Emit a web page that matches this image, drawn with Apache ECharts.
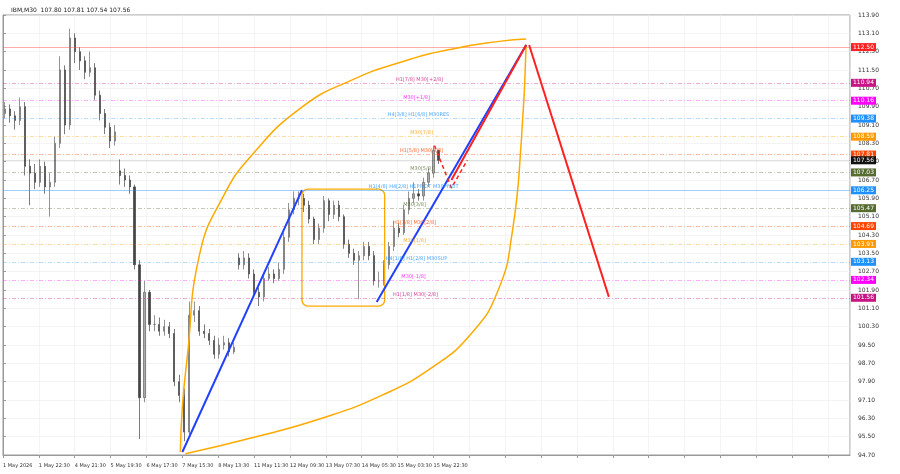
<!DOCTYPE html>
<html><head><meta charset="utf-8">
<script src="https://cdn.jsdelivr.net/npm/echarts@6/dist/echarts.min.js"></script>
<style>html,body{margin:0;padding:0;background:#fff}#c{width:900px;height:474px}</style>
</head><body><div id="c"></div>
<script>
const xLabels=['1 May 2026','1 May 22:30','4 May 21:30','5 May 19:30','6 May 17:30','7 May 15:30','8 May 13:30','11 May 11:30','12 May 09:30','13 May 07:30','14 May 05:30','15 May 03:30','15 May 22:30'];
const opens=[109.6,109.8,109.5,109.3,109.9,107.3,107.0,106.6,107.3,106.4,
106.6,108.3,111.5,109.1,112.9,112.3,111.9,111.4,111.6,110.4,
109.6,109.0,108.4,107.1,106.9,106.7,106.4,103.0,97.2,101.8,
100.4,100.4,100.1,100.3,100.0,97.9,97.3,95.7,100.8,101.0,
100.1,100.0,99.7,99.1,99.5,99.6,99.2,103.3,103.0,103.3,
102.6,101.8,101.6,102.4,102.6,102.4,102.8,104.2,105.4,105.9,
105.9,105.6,105.0,104.1,104.6,105.8,105.2,105.6,105.1,103.9,
103.5,103.2,103.4,103.8,103.4,102.3,102.3,103.0,103.8,104.6,
104.4,105.4,105.9,106.1,106.0,106.6,107.0,108.0];
const closes=[109.8,109.5,109.3,109.9,107.3,107.0,106.6,107.3,106.4,106.6,
108.3,111.5,109.1,112.9,112.3,111.9,111.4,111.6,110.4,109.6,
109.0,108.4,108.8,106.9,106.7,106.4,103.0,97.2,101.8,100.4,
100.4,100.1,100.3,100.0,97.9,97.3,95.7,100.8,101.0,100.1,
100.0,99.7,99.1,99.5,99.6,99.2,99.4,103.0,103.3,102.6,
101.8,101.6,102.4,102.6,102.4,102.8,104.2,105.4,105.9,105.9,
105.6,105.0,104.1,104.6,105.8,105.2,105.6,105.1,103.9,103.5,
103.2,103.4,103.8,103.4,102.3,102.3,103.0,103.8,104.6,104.4,
105.4,105.9,106.1,106.0,106.6,107.0,108.0,107.56];
const highs=[110.1,110.0,109.7,110.3,110.1,107.6,107.4,107.6,107.5,107.0,
108.6,112.1,111.7,113.3,113.1,112.5,112.1,112.3,111.8,110.6,
109.8,109.2,109.1,107.6,107.2,106.9,106.5,103.2,102.3,101.9,
100.8,100.7,100.6,100.5,100.2,98.2,97.6,101.4,101.4,101.2,
100.4,100.2,99.9,99.8,99.9,99.8,99.6,103.5,103.6,103.5,
102.8,102.0,102.6,102.9,102.8,103.1,104.4,105.7,106.2,106.2,
106.1,105.8,105.1,104.8,106.0,105.9,105.8,105.8,105.2,104.1,
103.7,103.6,104.0,104.0,103.6,102.7,103.2,104.0,104.9,104.8,
105.6,106.2,106.6,106.3,106.8,107.2,108.2,108.0];
const lows=[109.4,109.2,108.9,109.1,106.9,105.6,106.3,106.4,106.1,105.1,
106.4,108.1,108.7,108.9,111.8,111.5,111.1,111.2,110.2,109.3,
108.7,108.1,108.2,106.5,106.4,106.1,102.8,95.4,97.0,100.1,
100.1,99.9,99.9,99.8,97.7,97.0,95.3,95.6,100.5,99.9,
99.8,99.5,98.9,98.9,99.3,99.0,99.1,102.8,102.8,102.4,
101.6,101.2,101.4,102.3,102.2,102.3,102.6,104.0,105.2,105.6,
105.3,104.8,103.9,103.9,104.4,104.9,105.0,104.9,103.7,103.3,
103.0,101.5,103.2,103.2,102.1,102.0,102.1,102.8,103.6,104.2,
104.3,105.2,105.7,105.8,105.8,106.4,106.8,107.4];
const levelPrices=[112.50,110.94,110.16,109.38,108.59,107.81,107.56,107.03,106.25,105.47,104.69,103.91,103.13,102.34,101.56];
const levelColors=['#ff2020','#c71585','#ff00ff','#1e90ff','#ff9900','#ff4500','#111111','#556b2f','#1e90ff','#556b2f','#ff4500','#ff9900','#1e90ff','#ff00ff','#c71585'];
const levelLineColors=['rgba(255,80,80,0.6)','rgba(199,21,133,0.45)','rgba(255,0,255,0.4)','rgba(30,144,255,0.4)','rgba(255,153,0,0.45)','rgba(255,69,0,0.45)','rgba(0,0,0,0.15)','rgba(85,107,47,0.45)','rgba(30,144,255,0.55)','rgba(85,107,47,0.45)','rgba(255,69,0,0.45)','rgba(255,153,0,0.45)','rgba(30,144,255,0.4)','rgba(255,0,255,0.4)','rgba(199,21,133,0.45)'];
const levelTexts=['','H1[7/8] M30[+2/8]','M30[+1/8]','H4[3/8] H1[6/8] M30RES','M30[7/8]','H1[5/8] M30[6/8]','','M30[5/8]','H1[4/8] H4[2/8] H1PIVOT M30PIVOT','M30[3/8]','H1[3/8] M30[2/8]','M30[1/8]','H4[1/8] H1[2/8] M30SUP','M30[-1/8]','H1[1/8] M30[-2/8]'];
const levelTextX=[0,418,415,417,420,420,0,420,412,413,413,413,415,412,414];
const blueLine1=[[180,94.83],[300,106.26]];
const blueLine2=[[375,101.38],[525,112.59]];
const redUp=[[450,106.7],[525,112.59]];
const redDown=[[528,112.59],[608,101.6]];
const redDash=[[433,108.2],[450,106.35],[466,107.57]];
const arcUpper=[[178,94.83],[180,96.8],[185,99.0],[197,103.4],[220,105.9],[250,107.8],[300,109.88],[350,111.06],[400,111.85],[450,112.41],[500,112.76],[525,112.85]];
const arcLower=[[183,94.75],[250,95.45],[320,96.3],[380,97.3],[430,98.5],[470,100.0],[497,101.9],[511,104.4],[520,108.3],[525,112.6]];
const boxRect=[[300,106.3,383,101.2]];

const candles=closes.map((c,i)=>[2+5*i,opens[i],c,lows[i],highs[i]]);
const ch=echarts.init(document.getElementById('c'));
const mk=levelPrices.map((p,i)=>({yAxis:p,
  lineStyle:{color:levelLineColors[i],type:(i===0||i===8||i===6)?'solid':[4,2,1,2],width:0.8},
  label:{show:true,position:'end',formatter:p.toFixed(2),color:'#fff',backgroundColor:levelColors[i],fontSize:6,padding:[1,2],distance:1,fontFamily:'DejaVu Sans'}}));
const txt=levelPrices.map((p,i)=>({value:[levelTextX[i],p],label:{formatter:levelTexts[i],color:levelColors[i]}})).filter((d,i)=>levelTexts[i]);
function ln(data,color,w,type,smooth){return {type:'line',data,symbol:'none',smooth:smooth||false,lineStyle:{color,width:w,type:type||'solid'},z:5,silent:true};}
ch.setOption({
  animation:false,
  title:{text:'IBM,M30  107.80 107.81 107.54 107.56',left:6,top:2,textStyle:{fontSize:6,fontWeight:'normal',color:'#222',fontFamily:'DejaVu Sans'}},
  grid:{left:1,right:50,top:15,bottom:19,show:true,borderColor:'#999',borderWidth:1},
  xAxis:{type:'value',min:0,max:850,interval:36,
    axisLine:{lineStyle:{color:'#999'}},axisTick:{show:true,length:3,lineStyle:{color:'#999'}},
    axisLabel:{fontSize:5,color:'#333',align:'left',fontFamily:'DejaVu Sans',showMaxLabel:false,
      formatter:v=>xLabels[Math.round(v/36)]||''},
    splitLine:{show:true,lineStyle:{color:'#ececec',width:0.6}}},
  yAxis:{type:'value',position:'right',min:94.7,max:113.9,interval:0.8,
    axisLine:{show:true,lineStyle:{color:'#999'}},axisTick:{show:true,length:3},
    axisLabel:{fontSize:6,color:'#333',fontFamily:'DejaVu Sans',formatter:v=>v.toFixed(2)},
    splitLine:{show:true,lineStyle:{color:'#ececec',width:0.6}}},
  series:[
    {type:'candlestick',data:candles,barWidth:1.6,z:3,
      itemStyle:{color:'#aaaaaa',color0:'#444444',borderColor:'#666666',borderColor0:'#444444',borderWidth:0.7},
      markLine:{symbol:'none',silent:true,data:mk}},
    {type:'scatter',data:txt,symbolSize:0,z:6,silent:true,
      label:{show:true,position:'top',distance:1,fontSize:5,fontFamily:'DejaVu Sans'}},
    ln(arcUpper,'#ffaa00',1.5,null,0.5),ln(arcLower,'#ffaa00',1.5,null,0.5),
    ln(blueLine1,'#2040ff',2),ln(blueLine2,'#2040ff',2),
    ln(redUp,'#ff2020',2),ln(redDown,'#ff2020',2),ln(redDash,'#ff2020',1.5,[4,3]),
    {type:'custom',data:boxRect,z:4,silent:true,renderItem:(params,api)=>{
      const a=api.coord([api.value(0),api.value(1)]),b=api.coord([api.value(2),api.value(3)]);
      return {type:'rect',shape:{x:a[0],y:a[1],width:b[0]-a[0],height:b[1]-a[1],r:6},style:{fill:'none',stroke:'#ffaa00',lineWidth:1.3}};
    }}
  ]
});
</script></body></html>
